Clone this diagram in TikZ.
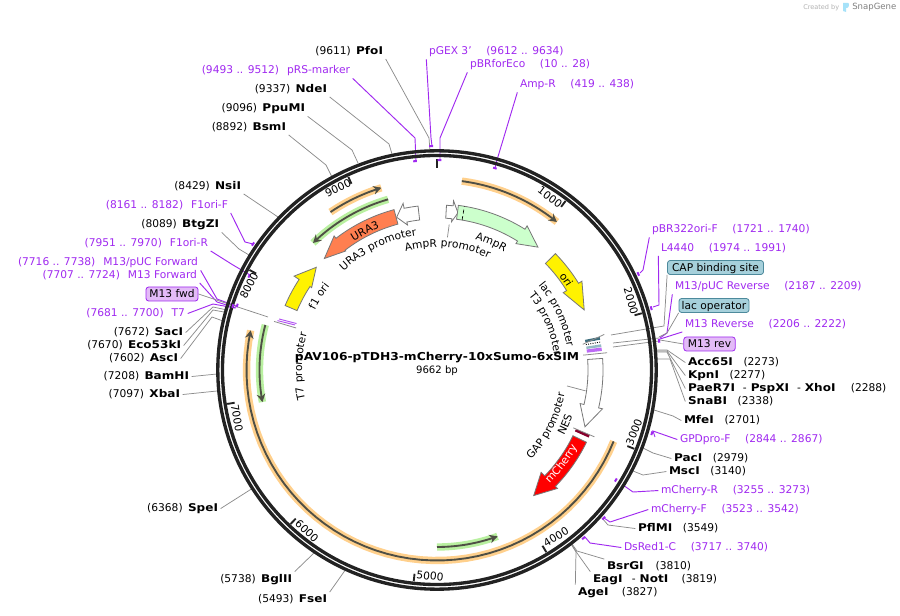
\documentclass[tikz,border=0pt]{standalone}
\usepackage{fontspec}
\setmainfont{DejaVu Sans}
\newfontface\bd{DejaVu Sans Bold}[FakeStretch=1.13]
\usetikzlibrary{arrows.meta,decorations.text}
\definecolor{pur}{HTML}{A029F0}
\definecolor{gln}{HTML}{8C8C8C}
\definecolor{ringc}{HTML}{222222}
\definecolor{ftl}{HTML}{777777}
\definecolor{orp}{HTML}{FFD08C}
\definecolor{grp}{HTML}{B9F0A0}
\definecolor{dkl}{HTML}{4F4F45}
\definecolor{tealb}{HTML}{A6D0DB}
\definecolor{teale}{HTML}{4D8A9C}
\definecolor{lavb}{HTML}{E3BBF7}
\definecolor{coralc}{HTML}{FF7F50}
\newcommand\lab{\fontsize{8}{10}\selectfont}
\newcommand\gp{\hspace{4pt}}
\newcommand\pg{\hspace{11pt}}
\newcommand\en[1]{{\bd #1}}
\tikzset{
 lbl/.style={font=\lab,inner sep=0pt,outer sep=2pt,yshift=-0.4pt},
 elbl/.style={lbl,anchor=east,xshift=2pt},
 wlbl/.style={lbl,anchor=west,xshift=-2pt},
 plbl/.style={text=pur},
 gc/.style={draw=gln,line width=0.55pt},
 pc/.style={draw=pur,line width=0.7pt},
 feat/.style={draw=ftl,line width=0.6pt},
 ticklab/.style={font=\lab,inner sep=0pt},
 tealbox/.style={font=\lab,draw=teale,fill=tealb,rounded corners=2pt,inner sep=0pt,minimum height=10.5pt,text depth=0pt,line width=0.6pt},
 lavbox/.style={font=\lab,draw=pur,fill=lavb,rounded corners=2pt,inner sep=0pt,minimum height=10.5pt,line width=0.6pt},
}
\newcommand\cn[4]{\coordinate (elb) at (#3);\coordinate (fin) at (#4);\draw[#1] (#2) -- (elb) -- (fin);}
\newcommand\cs[3]{\coordinate (fin) at (#3);\draw[#1] (#2) -- (fin);}
\newcommand\feature[8]{\path[feat,#1] plot[domain=#2:#4,samples=30] ({\x-90}:#6) -- ({#4-90}:#8) -- ({#3-90}:{(#5+#6)/2}) -- ({#4-90}:#7) -- ({#4-90}:#5) -- plot[domain=#4:#2,samples=30] ({\x-90}:#5) -- cycle;}
\newcommand\band[4]{\draw[#4,line width=5.5pt] plot[domain=#1:#2,samples=50] ({\x-90}:#3);
 \draw[dkl,line width=1.4pt,-{Stealth[length=6pt,width=6.5pt]}] plot[domain=#1:#2,samples=50] ({\x-90}:#3);}
\newcommand\arctxt[5]{\path[decorate,decoration={text along path,text={|\lab\color{#1}|#5},text align=center}] plot[domain=#3:#4,samples=40] ({\x-90}:#2);}
\newcommand\mk[2]{\draw[pur,line width=1.5pt] ({#1-90-0.5}:#2) -- ({#1-90+0.5}:#2);}
\newcommand\tk[1]{\draw[ringc,line width=1.4pt] ({#1-90}:212.5) -- ({#1-90}:205);}
\newcommand\thin[3]{\fill[#3] ({#1-90}:151) -- ({#1-90}:166) -- ({#2-90}:166) -- ({#2-90}:151) -- cycle;}
\begin{document}
\begin{tikzpicture}[x=0.75pt,y=-0.75pt]
\useasboundingbox (0,0) rectangle (900,616);
\fill[white] (0,0) rectangle (900,616);

% ---------- labels ----------
\node[elbl] (pfoi) at (383,51) {(9611)\gp\en{PfoI}};
\node[elbl,plbl] (prs) at (350,70) {(9493 .. 9512)\hspace{6pt}pRS-marker};
\node[elbl] (ndei) at (327,89) {(9337)\gp\en{NdeI}};
\node[elbl] (ppu) at (305,108) {(9096)\gp\en{PpuMI}};
\node[elbl] (bsm) at (286,127) {(8892)\gp\en{BsmI}};
\node[elbl] (nsi) at (241,186) {(8429)\gp\en{NsiI}};
\node[elbl,plbl] (f1f) at (228,205) {(8161 .. 8182)\hspace{6pt}F1ori-F};
\node[elbl] (btg) at (219,224) {(8089)\gp\en{BtgZI}};
\node[elbl,plbl] (f1r) at (208,243) {(7951 .. 7970)\hspace{6pt}F1ori-R};
\node[elbl,plbl] (puf) at (198,262) {(7716 .. 7738)\hspace{6pt}M13/pUC Forward};
\node[elbl,plbl] (m13f) at (197,275) {(7707 .. 7724)\hspace{6pt}M13 Forward};
\node[lavbox,minimum width=39pt] (fwd) at (172,294) {M13 fwd};
\node[elbl,plbl] (t7) at (185,313) {(7681 .. 7700)\hspace{6pt}T7};
\node[elbl] (sac) at (183,332) {(7672)\gp\en{SacI}};
\node[elbl] (eco) at (181,345) {(7670)\gp\en{Eco53kI}};
\node[elbl] (asc) at (178,358) {(7602)\gp\en{AscI}};
\node[elbl] (bam) at (189,376) {(7208)\gp\en{BamHI}};
\node[elbl] (xba) at (180,394) {(7097)\gp\en{XbaI}};
\node[elbl] (spe) at (218,508) {(6368)\gp\en{SpeI}};
\node[elbl] (bgl) at (292,579) {(5738)\gp\en{BglII}};
\node[elbl] (fse) at (327,599) {(5493)\gp\en{FseI}};

\node[wlbl,plbl] (pgex) at (429,51) {pGEX 3'\pg(9612 .. 9634)};
\node[wlbl,plbl] (pbrf) at (470,64) {pBRforEco\pg(10 .. 28)};
\node[wlbl,plbl] (ampr) at (520,84) {Amp-R\pg(419 .. 438)};
\node[wlbl,plbl] (pbr) at (652,229) {pBR322ori-F\pg(1721 .. 1740)};
\node[wlbl,plbl] (l44) at (661,248) {L4440\pg(1974 .. 1991)};
\node[tealbox,minimum width=72pt] (cap) at (715.5,267.5) {CAP binding site};
\node[wlbl,plbl] (pur) at (675,286) {M13/pUC Reverse\pg(2187 .. 2209)};
\node[tealbox,minimum width=52.5pt] (lacop) at (714,305.5) {lac operator};
\node[wlbl,plbl] (m13r) at (685,324) {M13 Reverse\pg(2206 .. 2222)};
\node[lavbox,minimum width=38.5pt] (rev) at (709.5,344) {M13 rev};
\node[wlbl] (acc) at (688,362) {\en{Acc65I}\hspace{8pt}(2273)};
\node[wlbl] (kpn) at (688,375) {\en{KpnI}\hspace{8pt}(2277)};
\node[wlbl] (pae) at (688,388) {\en{PaeR7I}\hspace{6pt}-\hspace{3pt}\en{PspXI}\hspace{6pt}-\hspace{3pt}\en{XhoI}\hspace{11.5pt}(2288)};
\node[wlbl] (sna) at (688,401) {\en{SnaBI}\hspace{8pt}(2338)};
\node[wlbl] (mfe) at (684,420) {\en{MfeI}\hspace{8pt}(2701)};
\node[wlbl,plbl] (gpd) at (680,439) {GPDpro-F\pg(2844 .. 2867)};
\node[wlbl] (pac) at (674,458) {\en{PacI}\hspace{8pt}(2979)};
\node[wlbl] (msc) at (669,471) {\en{MscI}\hspace{8pt}(3140)};
\node[wlbl,plbl] (chr) at (661,490) {mCherry-R\pg(3255 .. 3273)};
\node[wlbl,plbl] (chf) at (651,509) {mCherry-F\pg(3523 .. 3542)};
\node[wlbl] (pfl) at (638,528) {\en{PflMI}\hspace{8pt}(3549)};
\node[wlbl,plbl] (dsr) at (624,547) {DsRed1-C\pg(3717 .. 3740)};
\node[wlbl] (bsr) at (607,566) {\en{BsrGI}\hspace{9pt}(3810)};
\node[wlbl] (eag) at (593,579) {\en{EagI}\hspace{7pt}-\hspace{3pt}\en{NotI}\hspace{10pt}(3819)};
\node[wlbl] (age) at (578,592) {\en{AgeI}\hspace{10pt}(3827)};

\node[font=\fontsize{8.15}{11}\selectfont\bd,inner sep=0pt] (title) at (437,358) {pAV106-pTDH3-mCherry-10xSumo-6xSIM};
\node[font=\fontsize{7.6}{9}\selectfont,inner sep=0pt] (bp) at (437,371) {9662 bp};

% ---------- connectors ----------
\cn{gc}{pfoi.south east}{429,138}{430,151}
\cn{pc}{prs.south east}{415,138}{416,161}
\cn{gc}{ndei.south east}{389,144}{392,154}
\cn{gc}{ppu.south east}{352,150}{358,163}
\cn{gc}{bsm.south east}{326,165}{332,177}
\cs{gc}{nsi.south east}{278,217}
\cn{pc}{f1f.south east}{245,242}{253,244}
\cn{gc}{btg.south east}{239,249}{249,255}
\cn{pc}{f1r.south east}{233,265}{250,275}
\cn{pc}{puf.south east}{217,299}{236,306}
\cn{pc}{m13f.south east}{217,302}{236,308}
\cs{gc}{fwd.east}{268,317}
\cn{pc}{t7.east}{213,304}{235,308}
\cn{gc}{sac.east}{213,307}{227,310}
\cn{gc}{eco.east}{213,310}{224,312}
\cn{gc}{asc.east}{212,317}{223,321}
\cs{gc}{bam.east}{217,374}
\cs{gc}{xba.east}{217,391}
\cs{gc}{spe.east}{253,488}
\cs{gc}{bgl.north east}{315,552}
\cs{gc}{fse.north east}{346,569}

\cn{pc}{pgex.south west}{431,138}{432,146}
\cn{pc}{pbrf.south west}{440,138}{440,160}
\cn{pc}{ampr.south west}{497,160}{495,168}
\cn{pc}{pbr.south west}{643,270}{640,273}
\cn{pc}{l44.south west}{659,305}{653,307}
\cn{gc}{cap.south west}{664,326}{611,335}
\cn{pc}{pur.south west}{667,333}{660,338}
\cn{gc}{lacop.south west}{667,333}{659,337}
\cs{pc}{m13r.south west}{660,339}
\cs{gc}{rev.west}{660,340}
\coordinate (ln1a) at (613,343);\coordinate (ln1b) at (659,338);\draw[gc] (ln1a) -- (ln1b);
\coordinate (ln2a) at (613,347);\coordinate (ln2b) at (659,341);\draw[gc] (ln2a) -- (ln2b);
\cn{gc}{acc.west}{667,350}{657,350}
\cn{gc}{kpn.west}{667,351}{657,351}
\cn{gc}{pae.west}{667,352}{657,352}
\cn{gc}{sna.west}{670,359}{657,359}
\cn{gc}{mfe.west}{673,416}{654,410}
\cn{pc}{gpd.west}{653,431}{655,437}
\cn{gc}{pac.west}{653,453}{643,448}
\cn{gc}{msc.west}{643,475}{633,471}
\cn{pc}{chr.west}{633,492}{623,485}
\cn{pc}{chf.west}{610,522}{604,518}
\cn{gc}{pfl.west}{608,525}{602,518}
\cn{pc}{dsr.west}{590,543}{585,537}
\cn{gc}{bsr.north west}{577,551}{572,544}
\cn{gc}{eag.north west}{577,553}{572,545}
\cn{gc}{age.north west}{576,552}{571,544}

\begin{scope}[shift={(437,370)}]
% ---------- ring ----------
\draw[ringc,line width=2.5pt] (0,0) circle[radius=164.4pt];
\draw[ringc,line width=2.5pt] (0,0) circle[radius=160.9pt];
\draw[ringc,line width=2.2pt] (-90:211) -- (-90:202);
\tk{37.26}\tk{74.52}\tk{111.78}\tk{149.03}\tk{186.29}\tk{223.55}\tk{260.81}\tk{298.07}\tk{335.33}
% purple end markers
\mk{354}{210}\mk{358.5}{224}\mk{0.7}{210}\mk{16}{210}\mk{304.4}{223}\mk{296.6}{210}
\mk{287.9}{210}\mk{287.4}{214}\mk{138.9}{223}\mk{121.6}{210}\mk{131.6}{223}\mk{106.4}{224}\mk{82.5}{224}\mk{64.5}{223}\mk{73.9}{223}
% ---------- arcs with arrows ----------
\band{7.5}{39}{190.5}{orp}
\band{326}{343}{190.5}{orp}
\band{112}{282}{190.5}{orp}
\band{344}{315.7}{177.5}{grp}
\band{284.7}{259.6}{177.5}{grp}
\band{180}{160}{177}{grp}
% ---------- features ----------
\feature{fill=white}{353.4}{345.2}{348.5}{151}{165}{148}{170}
\feature{fill=white}{3.3}{7.6}{5.6}{152}{165}{149}{170}
\feature{fill=green!20}{7.4}{39.4}{32}{152}{166}{149}{170}
\draw[densely dashed,line width=0.5pt] (9.5-90:152) -- (9.5-90:166);
\feature{fill=yellow}{45.5}{67.8}{58.5}{152}{166}{148}{170}
\feature{fill=white}{86}{111}{103.2}{151}{166}{147}{170}
\feature{fill=red}{115.8}{142.4}{134.5}{151}{166}{146}{169}
\feature{fill=yellow}{293}{310.4}{303.3}{152}{165}{150}{171}
\feature{fill=coralc}{345}{314.7}{322.5}{151}{166}{150}{169}
% right small cluster
\thin{78.5}{79.5}{teale!80!black}
\thin{79.6}{81}{white}
\draw[densely dotted,line width=0.7pt] (80.3-90:151) -- (80.3-90:166);
\thin{81.1}{82}{teale!60}
\thin{82.2}{83.4}{pur!70}
\draw[gln,line width=0.6pt] (80-90:148) -- (78-90:171);
\draw[gln,line width=0.6pt] (84.2-90:147) -- (84.2-90:171);
% left small cluster
\draw[pur!80,line width=0.7pt] (288.3-90:148) -- (287.9-90:166);
\draw[pur!80,line width=0.7pt] (287.6-90:149) -- (287.2-90:167);
\draw[gln,line width=0.6pt] (286.6-90:147) -- (286.6-90:170);
% NES
\thin{113}{114}{purple!70!black}
\draw[gln,line width=0.6pt] (113-90:148) -- (113-90:171);
% small lines
\coordinate (apa) at (4.8-90:146);\coordinate (apb) at (4.5-90:133);\draw[gc] (apa) -- (apb);
\coordinate (gpa) at (98-90:150);\coordinate (gpb) at (97-90:131);\draw[gc] (gpa) -- (gpb);
% ---------- feature texts ----------
\arctxt{black}{136}{310}{358}{URA3 promoter}
\arctxt{black}{123}{340}{390}{AmpR promoter}
\arctxt{black}{136}{10}{36}{AmpR}
\arctxt{black}{153}{315}{350}{URA3}
\arctxt{black}{136}{284}{320}{f1 ori}
\arctxt{black}{154}{40}{70}{ori}
\arctxt{black}{132}{35}{95}{lac promoter}
\arctxt{black}{118}{35}{99}{T3 promoter}
\arctxt{black}{135}{240}{303}{T7 promoter}
\arctxt{black}{130}{150}{84}{GAP promoter}
\arctxt{black}{143}{130}{96}{NES}
\arctxt{white}{160}{150}{104}{mCherry}
\end{scope}
% ---------- tick labels ----------
\node[ticklab,rotate=-37] (t1) at (550,197) {1000};
\node[ticklab,rotate=-74.5] (t2) at (631,301) {2000};
\node[ticklab,rotate=68] (t3) at (634,432) {3000};
\node[ticklab,rotate=31] (t4) at (556,537) {4000};
\node[ticklab,rotate=-6.3] (t5) at (430,576) {5000};
\node[ticklab,rotate=-43.6] (t6) at (307,531) {6000};
\node[ticklab,rotate=-80.8] (t7n) at (237,418) {7000};
\node[ticklab,rotate=62] (t8) at (249,286) {8000};
\node[ticklab,rotate=25] (t9) at (338,188) {9000};
% ---------- logo ----------
\node[font=\fontsize{4.9}{6}\selectfont,text=black!30,inner sep=0pt,anchor=west] (cb) at (803,7.5) {Created by};
\fill[cyan!35] (843,3) -- (848,3) to[out=0,in=0] (847,8) -- (846,8) -- (846,12) -- (843,11) -- cycle;
\node[font=\fontsize{6.4}{8}\selectfont,text=black!50,inner sep=0pt,anchor=west] (sg) at (852,7.5) {SnapGene};
\end{tikzpicture}
\end{document}
